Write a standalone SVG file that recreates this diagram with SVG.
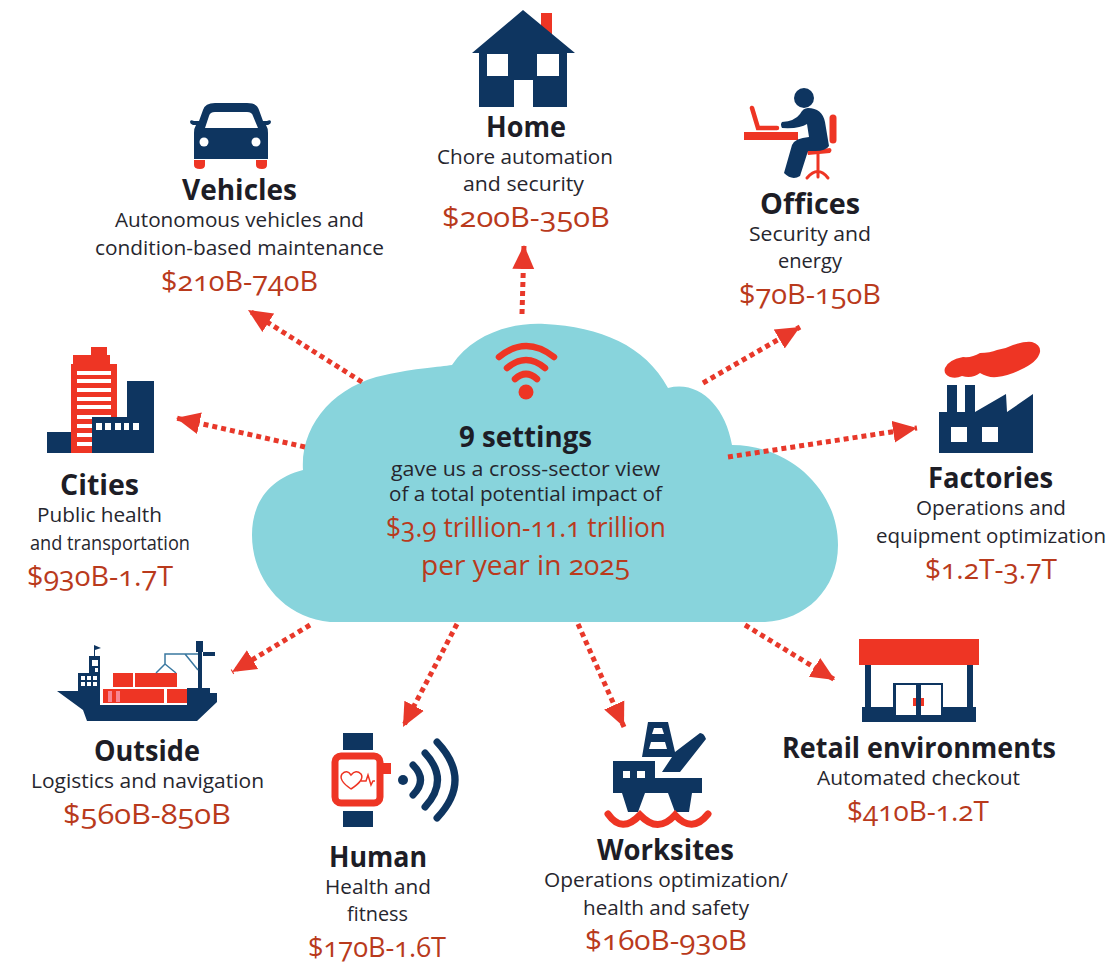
<svg xmlns="http://www.w3.org/2000/svg" width="1110" height="963" viewBox="0 0 1110 963">
<style>
text{font-family:"Open Sans","Noto Sans","Liberation Sans",sans-serif;text-anchor:middle}
.t{font-size:28px;font-weight:700;fill:#1d1d26}
.b{font-size:20.500px;fill:#26262e}
.p{font-size:28px;fill:#b93a1c;font-variant-numeric:oldstyle-nums}
.n{fill:#0e3560}.r{fill:#ee3524}.w{fill:#fff}
.ln{fill:none;stroke:#0e3560;stroke-linecap:round}
.rl{fill:none;stroke:#ee3524;stroke-linecap:round}
.a{fill:none;stroke:#e8382a;stroke-width:5;stroke-dasharray:5 4;marker-end:url(#ah)}
</style>
<defs><marker id="ah" markerUnits="userSpaceOnUse" markerWidth="26" markerHeight="24" refX="24" refY="12" orient="auto"><path d="M0 1L24 12L0 23Z" fill="#e8382a"/></marker></defs>
<rect width="1110" height="963" fill="#fff"/>
<g id="cloud">
<path d="M330 622C285 618 252 580 252 535C252 500 272 478 303 470C300 425 335 385 385 375C415 368 440 367 452 365C472 335 510 322 545 324C600 327 645 345 668 388C698 380 725 405 732 445C790 445 838 490 838 545C838 590 805 620 765 622Z" fill="#88d4dc"/>
<g id="wifi"><circle cx="526" cy="392" r="7.500" class="r"/><path d="M515 379Q526 369 537 379M507 368Q526 352 545 368M499 357Q526 335 554 357" class="rl" stroke-width="6.500"/></g>
<text class="t" x="525.500" y="447" textLength="133" lengthAdjust="spacingAndGlyphs">9 settings</text>
<text class="b" x="525.500" y="476" textLength="269" lengthAdjust="spacingAndGlyphs">gave us a cross-sector view</text>
<text class="b" x="525.500" y="501" textLength="273" lengthAdjust="spacingAndGlyphs">of a total potential impact of</text>
<text class="p" x="526" y="537" textLength="280" lengthAdjust="spacingAndGlyphs">$3.9 trillion-11.1 trillion</text>
<text class="p" x="525.500" y="575" textLength="209" lengthAdjust="spacingAndGlyphs">per year in 2025</text>
</g>
<g id="connectors">
<line class="a" x1="522" y1="314" x2="524" y2="245"/>
<line class="a" x1="362" y1="382" x2="248" y2="310"/>
<line class="a" x1="703" y1="383" x2="800" y2="327"/>
<line class="a" x1="305" y1="447" x2="176" y2="418"/>
<line class="a" x1="728" y1="457" x2="917" y2="428"/>
<line class="a" x1="310" y1="625" x2="232" y2="672"/>
<line class="a" x1="457" y1="624" x2="403" y2="727"/>
<line class="a" x1="578" y1="624" x2="624" y2="727"/>
<line class="a" x1="745" y1="625" x2="835" y2="680"/>
</g>
<g id="home">
<path class="r" d="M541 13H552V35L541 28Z"/>
<path class="n" fill-rule="evenodd" d="M523 10L575 53H567V107H533V80H514V107H479V53H472ZM487 54V76H508V54ZM537 54V76H559V54Z"/>
<text class="t" x="526" y="137" textLength="80" lengthAdjust="spacingAndGlyphs">Home</text>
<text class="b" x="525" y="164" textLength="176" lengthAdjust="spacingAndGlyphs">Chore automation</text>
<text class="b" x="523.500" y="191" textLength="121" lengthAdjust="spacingAndGlyphs">and security</text>
<text class="p" x="526" y="227" textLength="168" lengthAdjust="spacingAndGlyphs">$200B-350B</text>
</g>
<g id="vehicles">
<path class="r" d="M194 160H205V165Q205 169 200 169Q194 169 194 165ZM256 160H267V165Q267 169 262 169Q256 169 256 165Z"/>
<path class="n" fill-rule="evenodd" d="M194 159V133Q194 128 196 125H193Q190 124 190 122Q190 119 194 121H199L203 110Q205 103 215 103H247Q257 103 259 110L263 121H267Q271 119 271 122Q271 124 268 125H266Q268 128 268 133V159ZM205 128H258L253 116Q252 112 247 112H215Q210 112 209 116Z"/>
<circle class="w" cx="204" cy="142" r="4.500"/><circle class="w" cx="256" cy="142" r="4.500"/>
<text class="t" x="239.500" y="200" textLength="115" lengthAdjust="spacingAndGlyphs">Vehicles</text>
<text class="b" x="239.500" y="227" textLength="249" lengthAdjust="spacingAndGlyphs">Autonomous vehicles and</text>
<text class="b" x="239.500" y="255" textLength="289" lengthAdjust="spacingAndGlyphs">condition-based maintenance</text>
<text class="p" x="239.500" y="291" textLength="157" lengthAdjust="spacingAndGlyphs">$210B-740B</text>
</g>
<g id="offices">
<rect class="r" x="744" y="132" width="54" height="8"/>
<path class="rl" stroke-width="4.500" d="M752 108L758 128H777"/>
<path class="rl" stroke-width="7" d="M833 118V140"/>
<path class="r" d="M807 151L830 148Q833 150 830 153L808 155Z"/>
<path class="rl" stroke-width="3" d="M818 154V177M807 178Q818 165 828 178M818 168V177"/>
<circle class="n" cx="804" cy="98" r="10"/>
<path class="n" d="M808 108Q822 108 825 122L829 146Q826 151 815 151H808L800 176Q792 181 784 173L792 145Q795 138 809 137L807 124Q800 129 782 128Q780 124 782 122Q795 121 800 114Q803 108 808 108Z"/>
<text class="t" x="810" y="214" textLength="100" lengthAdjust="spacingAndGlyphs">Offices</text>
<text class="b" x="810" y="241" textLength="122" lengthAdjust="spacingAndGlyphs">Security and</text>
<text class="b" x="810" y="268" textLength="64" lengthAdjust="spacingAndGlyphs">energy</text>
<text class="p" x="810" y="304" textLength="142" lengthAdjust="spacingAndGlyphs">$70B-150B</text>
</g>
<g id="cities">
<path class="r" d="M71 364H73V355H91V347H107V355H110V364H117V453H71Z"/>
<path class="w" d="M77 371H111V375H77ZM77 379H111V383H77ZM77 388H111V392H77ZM77 397H111V401H77ZM77 405H111V409H77ZM77 415H111V419H77ZM77 424H92V428H77ZM77 433H92V437H77ZM77 442H92V446H77Z"/>
<path class="n" d="M47 432H71V453H47ZM92 417H127V381H154V453H92Z"/>
<path class="w" d="M96 423H102V430H96ZM105 423H111V430H105ZM115 423H121V430H115ZM124 423H129V430H124ZM133 423H139V430H133Z"/>
<text class="t" x="99.500" y="495" textLength="79" lengthAdjust="spacingAndGlyphs">Cities</text>
<text class="b" x="99.500" y="522" textLength="125" lengthAdjust="spacingAndGlyphs">Public health</text>
<text class="b" x="110" y="550" textLength="160" lengthAdjust="spacingAndGlyphs">and transportation</text>
<text class="p" x="100" y="586" textLength="146" lengthAdjust="spacingAndGlyphs">$930B-1.7T</text>
</g>
<g id="factories">
<path class="r" d="M945 368Q948 360 963 357Q972 358 980 353Q990 353 997 350Q1005 349 1013 345Q1025 341 1032 342Q1041 345 1040 352Q1038 362 1020 370Q1008 376 997 377Q988 378 980 373Q972 379 962 376Q956 379 950 377Q943 374 945 368Z"/>
<path class="n" fill-rule="evenodd" d="M939 453V412H947V385H957V412H965V385H975V412L1006 394L1007 412L1033 394V453ZM951 427V442H967V427ZM982 427V442H998V427Z"/>
<text class="t" x="990.500" y="488" textLength="125" lengthAdjust="spacingAndGlyphs">Factories</text>
<text class="b" x="991" y="515" textLength="150" lengthAdjust="spacingAndGlyphs">Operations and</text>
<text class="b" x="991" y="543" textLength="230" lengthAdjust="spacingAndGlyphs">equipment optimization</text>
<text class="p" x="991" y="579" textLength="132" lengthAdjust="spacingAndGlyphs">$1.2T-3.7T</text>
</g>
<g id="outside">
<path class="r" d="M113 673H133V687H113ZM135 673H177V687H135ZM103 689H164V703H103ZM167 689H187V703H167Z"/>
<path fill="#fbd" opacity=".6" d="M108 691H112V702H108ZM116 691H120V702H116Z"/>
<path class="n" d="M57 691H78V673H89V656H100V705H187V688H193V688H210V693H217V702L197 721H87L83 710Z"/>
<path class="w" d="M81 676H85V680H81ZM87 676H91V680H87ZM93 676H97V680H93ZM81 682H85V686H81ZM87 682H91V686H87ZM93 682H97V686H93ZM92 660H98V666H92ZM95 668H98V672H95Z"/>
<path class="n" d="M94 656V645L101 648L95 650V656Z"/>
<path class="n" d="M198 648H202V688H198ZM196 641H203V652H196ZM203 652H215V656H203Z"/>
<path fill="none" stroke="#3a78a0" stroke-width="1.500" d="M165 664V654H198M165 664L156 673M165 664L176 673M185 654L198 670"/>
<text class="t" x="147" y="761" textLength="106" lengthAdjust="spacingAndGlyphs">Outside</text>
<text class="b" x="147.500" y="788" textLength="233" lengthAdjust="spacingAndGlyphs">Logistics and navigation</text>
<text class="p" x="147" y="824" textLength="168" lengthAdjust="spacingAndGlyphs">$560B-850B</text>
</g>
<g id="human">
<path class="n" d="M343 733H373V750H343ZM343 811H373V827H343Z"/>
<path class="r" d="M383 763H391V774H383Z"/>
<rect x="335" y="756" width="45" height="47" rx="6" fill="#fff" stroke="#ee3524" stroke-width="7"/>
<path fill="none" stroke="#ee3524" stroke-width="1.500" d="M351 789Q338 780 342 774Q347 769 351 775Q356 769 361 774Q365 780 351 789M361 781H366L368 775L371 785L373 781H375"/>
<circle class="n" cx="403" cy="780" r="5"/>
<path class="ln" stroke-width="7" d="M413 765Q428 780 413 795M425 753Q450 780 425 807M437 742Q473 780 437 818"/>
<text class="t" x="378" y="867" textLength="98" lengthAdjust="spacingAndGlyphs">Human</text>
<text class="b" x="378" y="894" textLength="106" lengthAdjust="spacingAndGlyphs">Health and</text>
<text class="b" x="377.500" y="921" textLength="61" lengthAdjust="spacingAndGlyphs">fitness</text>
<text class="p" x="377" y="957" textLength="138" lengthAdjust="spacingAndGlyphs">$170B-1.6T</text>
</g>
<g id="worksites">
<path class="n" fill-rule="evenodd" d="M648 722H668L675 752L700 733Q704 733 706 739L680 772H662L672 757H642ZM654 728L652 734H664L662 728ZM651 742L649 749H667L665 742Z"/>
<path class="n" fill-rule="evenodd" d="M613 761H655V778H702V793H692L689 812H675L668 793H645L638 812H628L622 793H613ZM623 771V778H630V771ZM637 771V778H645V771Z"/>
<path class="rl" stroke-width="7" d="M608 814Q622 834 640 815Q658 834 675 815Q692 834 708 814"/>
<text class="t" x="665.500" y="860" textLength="137" lengthAdjust="spacingAndGlyphs">Worksites</text>
<text class="b" x="666" y="887" textLength="244" lengthAdjust="spacingAndGlyphs">Operations optimization/</text>
<text class="b" x="666" y="915" textLength="166" lengthAdjust="spacingAndGlyphs">health and safety</text>
<text class="p" x="666" y="950" textLength="162" lengthAdjust="spacingAndGlyphs">$160B-930B</text>
</g>
<g id="retail">
<rect class="r" x="859" y="639" width="120" height="26"/>
<path class="n" d="M865 665H871V707H893V683H943V707H967V665H973V707H976V722H862V707H865Z"/>
<path class="w" d="M896 685H916V715H896ZM921 685H941V715H921Z"/>
<rect class="r" x="913" y="698" width="11" height="8"/><rect class="n" x="916" y="698" width="5" height="8"/>
<text class="t" x="919" y="758" textLength="274" lengthAdjust="spacingAndGlyphs">Retail environments</text>
<text class="b" x="918.500" y="785" textLength="203" lengthAdjust="spacingAndGlyphs">Automated checkout</text>
<text class="p" x="918" y="821" textLength="142" lengthAdjust="spacingAndGlyphs">$410B-1.2T</text>
</g>
</svg>
